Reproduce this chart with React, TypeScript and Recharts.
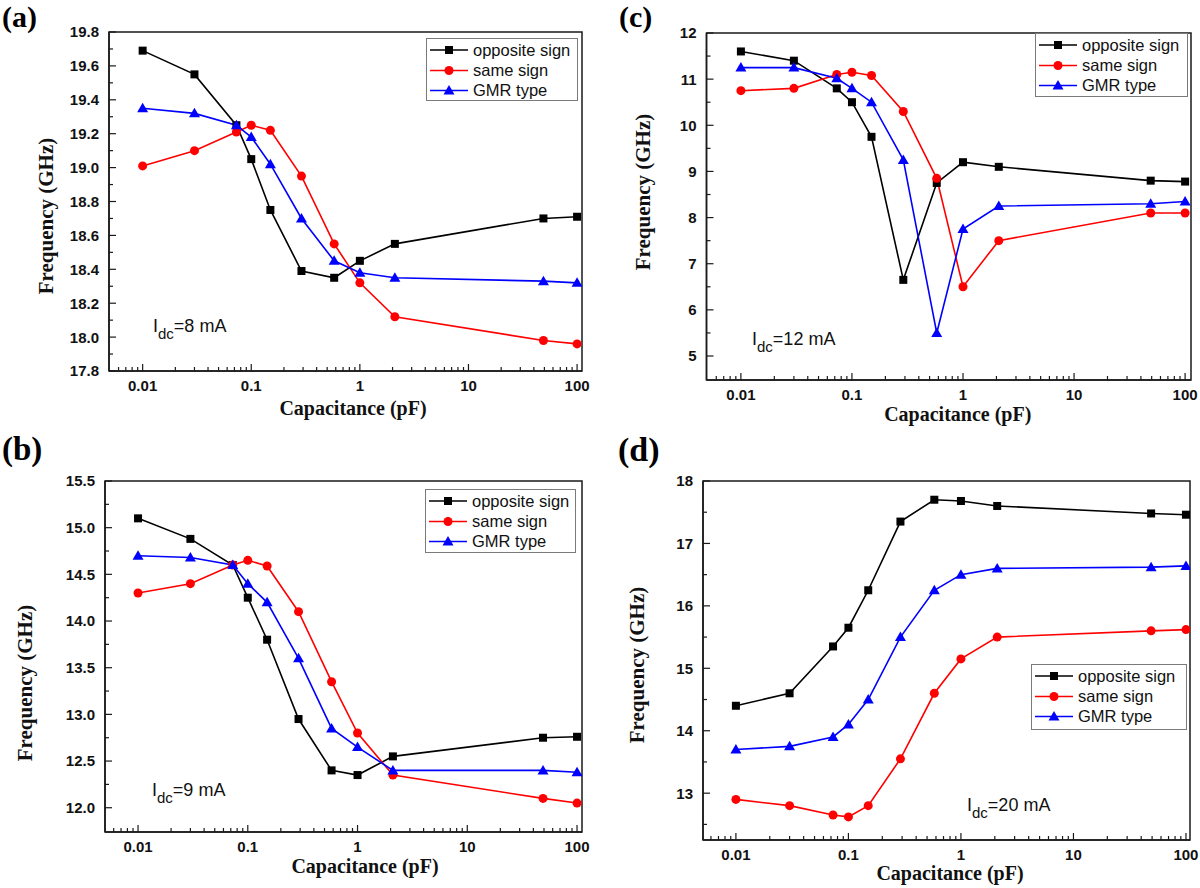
import React from 'react';
import { LineChart, Line, XAxis, YAxis, Legend, ReferenceArea } from 'recharts';

// Capacitance values (pF), shared by all panels
const CAPACITANCE = [0.01, 0.03, 0.073, 0.1, 0.15, 0.29, 0.58, 1, 2.1, 49, 100];

// Panel (a) Idc = 8 mA
const A_OPPOSITE = [19.69, 19.55, 19.25, 19.05, 18.75, 18.39, 18.35, 18.45, 18.55, 18.7, 18.71];
const A_SAME = [19.01, 19.1, 19.21, 19.25, 19.22, 18.95, 18.55, 18.32, 18.12, 17.98, 17.96];
const A_GMR = [19.35, 19.32, 19.25, 19.18, 19.02, 18.7, 18.45, 18.38, 18.35, 18.33, 18.32];

// Panel (b) Idc = 9 mA
const B_OPPOSITE = [15.1, 14.88, 14.6, 14.25, 13.8, 12.95, 12.4, 12.35, 12.55, 12.75, 12.76];
const B_SAME = [14.3, 14.4, 14.6, 14.65, 14.59, 14.1, 13.35, 12.8, 12.35, 12.1, 12.05];
const B_GMR = [14.7, 14.68, 14.6, 14.4, 14.2, 13.6, 12.85, 12.65, 12.4, 12.4, 12.38];

// Panel (c) Idc = 12 mA
const C_OPPOSITE = [11.6, 11.4, 10.8, 10.5, 9.75, 6.65, 8.75, 9.2, 9.1, 8.8, 8.78];
const C_SAME = [10.75, 10.8, 11.1, 11.15, 11.08, 10.3, 8.85, 6.5, 7.5, 8.1, 8.1];
const C_GMR = [11.25, 11.25, 11.02, 10.8, 10.5, 9.25, 5.5, 7.75, 8.25, 8.3, 8.35];

// Panel (d) Idc = 20 mA
const D_OPPOSITE = [14.4, 14.6, 15.35, 15.65, 16.25, 17.35, 17.7, 17.68, 17.6, 17.48, 17.46];
const D_SAME = [12.9, 12.8, 12.65, 12.62, 12.8, 13.55, 14.6, 15.15, 15.5, 15.6, 15.62];
const D_GMR = [13.7, 13.75, 13.9, 14.1, 14.5, 15.5, 16.25, 16.5, 16.6, 16.62, 16.64];

const SERIES_NAMES = ['opposite sign', 'same sign', 'GMR type'];
const SERIES_COLORS = ['#000000', '#ff0000', '#0000ff'];

// X axis ticks (log)
const X_MAJOR_TICKS = [0.01, 0.1, 1, 10, 100];
const X_TICK_LABELS = ['0.01', '0.1', '1', '10', '100'];
const X_MINOR_TICKS = [
  0.006, 0.007, 0.008, 0.009,
  0.02, 0.03, 0.04, 0.05, 0.06, 0.07, 0.08, 0.09,
  0.2, 0.3, 0.4, 0.5, 0.6, 0.7, 0.8, 0.9,
  2, 3, 4, 5, 6, 7, 8, 9,
  20, 30, 40, 50, 60, 70, 80, 90,
];

// Y axis ticks
const A_Y_MAJOR = [17.8, 18.0, 18.2, 18.4, 18.6, 18.8, 19.0, 19.2, 19.4, 19.6, 19.8];
const A_Y_MINOR = [17.9, 18.1, 18.3, 18.5, 18.7, 18.9, 19.1, 19.3, 19.5, 19.7];
const B_Y_MAJOR = [12.0, 12.5, 13.0, 13.5, 14.0, 14.5, 15.0, 15.5];
const B_Y_MINOR = [12.25, 12.75, 13.25, 13.75, 14.25, 14.75, 15.25];
const C_Y_MAJOR = [5, 6, 7, 8, 9, 10, 11, 12];
const C_Y_MINOR = [5.5, 6.5, 7.5, 8.5, 9.5, 10.5, 11.5];
const D_Y_MAJOR = [13, 14, 15, 16, 17, 18];
const D_Y_MINOR = [12.5, 13.5, 14.5, 15.5, 16.5, 17.5];

const SANS = "'Liberation Sans', Arial, Helvetica, sans-serif";
const SERIF = "'Liberation Serif', 'Times New Roman', Times, serif";
const AXIS_COLOR = '#1a1a1a';

const PANELS = [
  {
    key: 'a', left: 0, top: 0,
    margin: { top: 32, right: 18, bottom: 43, left: 49 },
    xDomain: [0.0049, 111], yDomain: [17.8, 19.8],
    yMajor: A_Y_MAJOR, yMinor: A_Y_MINOR, yDecimals: 1,
    series: [A_OPPOSITE, A_SAME, A_GMR],
    legend: { left: 426, top: 38, width: 152, height: 63 },
    yTitle: { dx: -56, dy: 14.5 }, xTitle: { dx: 7.5, below: 44 },
    letter: { text: '(a)', x: 2, y: 27, size: 30 },
    note: { x: 153, y: 332, value: '=8 mA' },
  },
  {
    key: 'c', left: 600, top: 0,
    margin: { top: 33, right: 9, bottom: 34, left: 46.5 },
    xDomain: [0.0049, 113], yDomain: [4.48, 12],
    yMajor: C_Y_MAJOR, yMinor: C_Y_MINOR, yDecimals: 0,
    series: [C_OPPOSITE, C_SAME, C_GMR],
    legend: { left: 435, top: 33, width: 153, height: 64 },
    yTitle: { dx: -56.5, dy: -14.5 }, xTitle: { dx: 9, below: 41 },
    letter: { text: '(c)', x: 619, y: 27, size: 30 },
    note: { x: 752, y: 345, value: '=12 mA' },
  },
  {
    key: 'b', left: 0, top: 444,
    margin: { top: 37, right: 18, bottom: 26, left: 45 },
    xDomain: [0.005, 111], yDomain: [11.74, 15.5],
    yMajor: B_Y_MAJOR, yMinor: B_Y_MINOR, yDecimals: 1,
    series: [B_OPPOSITE, B_SAME, B_GMR],
    legend: { left: 425, top: 45, width: 151, height: 64 },
    yTitle: { dx: -73, dy: 26.5 }, xTitle: { dx: 21.5, below: 41 },
    letter: { text: '(b)', x: 2, y: 460, size: 33 },
    note: { x: 152, y: 796, value: '=9 mA' },
  },
  {
    key: 'd', left: 600, top: 444,
    margin: { top: 37, right: 10, bottom: 18, left: 43 },
    xDomain: [0.0051, 108.6], yDomain: [12.25, 18],
    yMajor: D_Y_MAJOR, yMinor: D_Y_MINOR, yDecimals: 0,
    series: [D_OPPOSITE, D_SAME, D_GMR],
    legend: { left: 431, top: 220, width: 156, height: 66 },
    yTitle: { dx: -59.5, dy: 4.5 }, xTitle: { dx: 3.5, below: 40 },
    letter: { text: '(d)', x: 618, y: 461, size: 34 },
    note: { x: 967, y: 811, value: '=20 mA' },
  },
];

function Marker({ kind, cx, cy }: { kind: number; cx: number; cy: number }) {
  if (kind === 0) {
    return <rect x={cx - 4} y={cy - 4} width={8} height={8} fill={SERIES_COLORS[0]} />;
  }
  if (kind === 1) {
    return <circle cx={cx} cy={cy} r={4.5} fill={SERIES_COLORS[1]} />;
  }
  return (
    <polygon
      points={`${cx},${cy - 5.5} ${cx + 5.5},${cy + 4} ${cx - 5.5},${cy + 4}`}
      fill={SERIES_COLORS[2]}
    />
  );
}

function makeDot(kind: number) {
  return (p: any) => {
    if (p.cx == null || p.cy == null) return <g key={`e${kind}-${p.index}`} />;
    return (
      <g key={`d${kind}-${p.index}`}>
        <Marker kind={kind} cx={p.cx} cy={p.cy} />
      </g>
    );
  };
}

function XTick(p: any) {
  const { x, y, payload } = p;
  const v = payload.value;
  const idx = X_MAJOR_TICKS.indexOf(v);
  const major = idx >= 0;
  return (
    <g>
      <line x1={x} x2={x} y1={y} y2={y - (major ? 7 : 4)} stroke={AXIS_COLOR} strokeWidth={1.2} />
      {major && (
        <text x={x} y={y + 20} textAnchor="middle" fontFamily={SANS} fontWeight="bold" fontSize={15} fill="#111">
          {X_TICK_LABELS[idx]}
        </text>
      )}
    </g>
  );
}

function makeYTick(majors: number[], decimals: number) {
  return (p: any) => {
    const { x, y, payload } = p;
    const v = payload.value;
    const major = majors.indexOf(v) >= 0;
    return (
      <g key={`yt-${v}`}>
        <line x1={x} x2={x + (major ? 7 : 4)} y1={y} y2={y} stroke={AXIS_COLOR} strokeWidth={1.2} />
        {major && (
          <text x={x - 10} y={y} dy="0.36em" textAnchor="end" fontFamily={SANS} fontWeight="bold" fontSize={15} fill="#111">
            {v.toFixed(decimals)}
          </text>
        )}
      </g>
    );
  };
}

function LegendBox({ payload, width, height }: any) {
  const rows = [12, 32.5, 52.5];
  const items = (payload || [])
    .filter((it: any) => SERIES_NAMES.indexOf(it.value) >= 0)
    .sort((a: any, b: any) => SERIES_NAMES.indexOf(a.value) - SERIES_NAMES.indexOf(b.value));
  return (
    <svg width={width} height={height} style={{ display: 'block', overflow: 'visible' }}>
      <rect x={0.5} y={0.5} width={width - 1} height={height - 1} fill="#fff" stroke="#7a7a7a" strokeWidth={1} />
      {items.map((it: any, i: number) => {
        const kind = SERIES_NAMES.indexOf(it.value);
        const color = SERIES_COLORS[kind];
        const ry = rows[i];
        return (
          <g key={it.value}>
            <line x1={4} x2={42} y1={ry} y2={ry} stroke={color} strokeWidth={1.6} />
            <Marker kind={kind} cx={23} cy={ry} />
            <text x={47} y={ry} dy="0.36em" fontFamily={SANS} fontSize={16.5} fill="#111">
              {it.value}
            </text>
          </g>
        );
      })}
    </svg>
  );
}

function Panel({ cfg }: { cfg: any }) {
  const data = CAPACITANCE.map((c, i) => ({
    cap: c,
    opposite: cfg.series[0][i],
    same: cfg.series[1][i],
    gmr: cfg.series[2][i],
  }));
  const keys = ['opposite', 'same', 'gmr'];
  const yTicks = [...cfg.yMajor, ...cfg.yMinor];
  return (
    <div style={{ position: 'absolute', left: cfg.left, top: cfg.top, width: 600, height: 444 }}>
      <LineChart width={600} height={444} data={data} margin={cfg.margin}>
        <XAxis
          dataKey="cap"
          type="number"
          scale="log"
          domain={cfg.xDomain}
          allowDataOverflow
          ticks={[...X_MAJOR_TICKS, ...X_MINOR_TICKS]}
          interval={0}
          tick={(p: any) => <XTick key={`xt-${p.payload.value}`} {...p} />}
          tickLine={false}
          tickSize={0}
          tickMargin={0}
          height={30}
          axisLine={{ stroke: AXIS_COLOR, strokeWidth: 1.5 }}
          label={(p: any) => {
            const vb = p.viewBox || {};
            const tx = vb.x + vb.width / 2 + cfg.xTitle.dx;
            const ty = vb.y + cfg.xTitle.below;
            return (
              <text x={tx} y={ty} textAnchor="middle" fontFamily={SERIF} fontWeight="bold" fontSize={20} fill="#111">
                Capacitance (pF)
              </text>
            );
          }}
        />
        <YAxis
          type="number"
          domain={cfg.yDomain}
          allowDataOverflow
          ticks={yTicks}
          interval={0}
          tick={makeYTick(cfg.yMajor, cfg.yDecimals)}
          tickLine={false}
          tickSize={0}
          tickMargin={0}
          width={60}
          axisLine={{ stroke: AXIS_COLOR, strokeWidth: 1.5 }}
          label={(p: any) => {
            const vb = p.viewBox || {};
            const tx = vb.x + vb.width + cfg.yTitle.dx;
            const ty = vb.y + vb.height / 2 + cfg.yTitle.dy;
            return (
              <text
                x={tx}
                y={ty}
                transform={`rotate(-90 ${tx} ${ty})`}
                textAnchor="middle"
                fontFamily={SERIF}
                fontWeight="bold"
                fontSize={21}
                fill="#111"
              >
                Frequency (GHz)
              </text>
            );
          }}
        />
        <ReferenceArea
          x1={cfg.xDomain[0]}
          x2={cfg.xDomain[1]}
          y1={cfg.yDomain[0]}
          y2={cfg.yDomain[1]}
          fill="none"
          fillOpacity={0}
          stroke={AXIS_COLOR}
          strokeWidth={1.5}
          ifOverflow="visible"
        />
        {keys.map((k, i) => (
          <Line
            key={k}
            dataKey={k}
            name={SERIES_NAMES[i]}
            type="linear"
            stroke={SERIES_COLORS[i]}
            strokeWidth={1.6}
            dot={makeDot(i)}
            activeDot={false}
            isAnimationActive={false}
          />
        ))}
        <Legend
          layout="horizontal"
          verticalAlign="middle"
          align="center"
          wrapperStyle={{
            left: cfg.legend.left,
            top: cfg.legend.top,
            width: cfg.legend.width,
            height: cfg.legend.height,
            margin: 0,
            padding: 0,
            overflow: 'visible',
          }}
          content={(props: any) => (
            <LegendBox payload={props.payload} width={cfg.legend.width} height={cfg.legend.height} />
          )}
        />
      </LineChart>
    </div>
  );
}

export default function App() {
  return (
    <div style={{ position: 'absolute', left: 0, top: 0, width: 1200, height: 888, background: '#fff', overflow: 'hidden' }}>
      {PANELS.map((cfg) => (
        <Panel key={cfg.key} cfg={cfg} />
      ))}
      <svg width={1200} height={888} style={{ position: 'absolute', left: 0, top: 0, pointerEvents: 'none' }}>
        {PANELS.map((cfg) => (
          <g key={`ann-${cfg.key}`}>
            <text x={cfg.letter.x} y={cfg.letter.y} fontFamily={SERIF} fontWeight="bold" fontSize={cfg.letter.size} fill="#000">
              {cfg.letter.text}
            </text>
            <text x={cfg.note.x} y={cfg.note.y} fontFamily={SANS} fontSize={18} fill="#111">
              I
              <tspan dy={7} fontSize={15}>dc</tspan>
              <tspan dy={-7}>{cfg.note.value}</tspan>
            </text>
          </g>
        ))}
      </svg>
    </div>
  );
}
